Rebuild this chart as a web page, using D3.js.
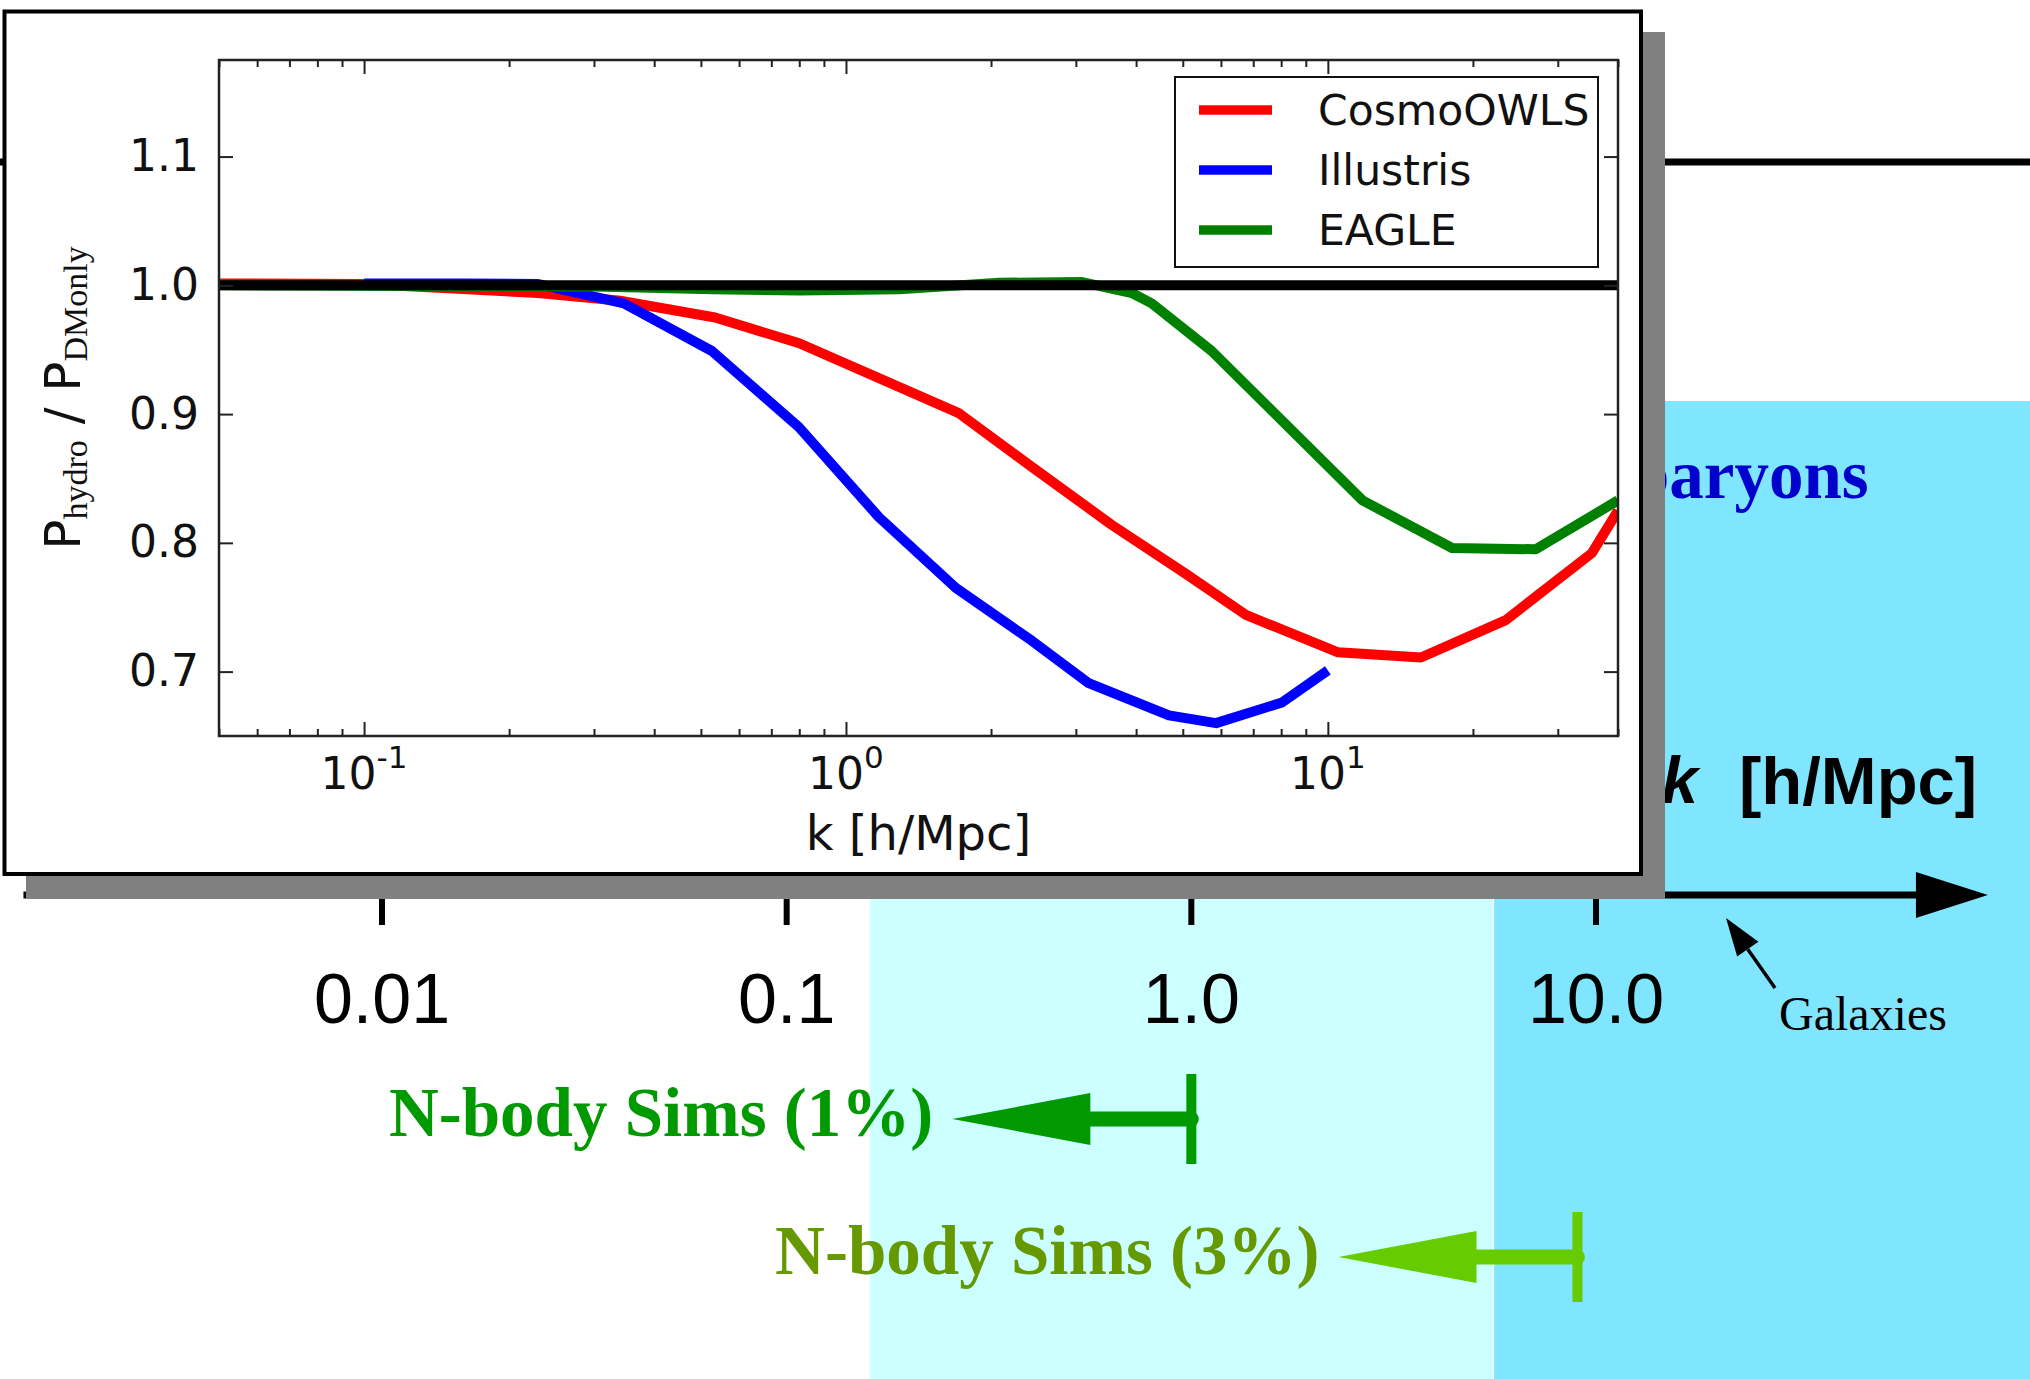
<!DOCTYPE html>
<html>
<head>
<meta charset="utf-8">
<script src="https://cdn.jsdelivr.net/npm/d3@7"></script>
<style>
  html, body { margin: 0; padding: 0; background: #fff; }
  svg { display: block; }
  text { white-space: pre; }
</style>
</head>
<body>
<svg id="chart" width="2030" height="1379"></svg>
<script>
// ---- big k axis (background sketch) ----
const bigTicks = [0.01, 0.1, 1.0, 10.0];
const bigTickLabels = ["0.01", "0.1", "1.0", "10.0"];
const bandBounds = [[0.161, 5.56], [5.6, 120]];      // k ranges of the shaded bands
const nbodyLabels = ["N-body Sims (1%)", "N-body Sims (3%)"];
const nbodyKmax = [1.0, 9.0];

// ---- inset: P_hydro / P_DMonly ----
const seriesNames = ["CosmoOWLS", "Illustris", "EAGLE"];
const kCosmo = [0.05, 0.10, 0.164, 0.23, 0.34, 0.535, 0.80, 1.71, 2.43, 3.56, 5.07, 6.76, 10.5, 15.6, 23.4, 35.3, 40];
const pCosmo = [1.0015, 1.001, 0.997, 0.994, 0.988, 0.975, 0.955, 0.901, 0.859, 0.814, 0.776, 0.744, 0.715, 0.711, 0.740, 0.792, 0.825];
const kIllustris = [0.1, 0.164, 0.23, 0.346, 0.527, 0.798, 1.17, 1.69, 2.43, 3.19, 4.68, 5.86, 8.03, 10.0];
const pIllustris = [1.0015, 1.0015, 1.001, 0.986, 0.949, 0.890, 0.820, 0.765, 0.724, 0.691, 0.666, 0.660, 0.676, 0.701];
const kEagle = [0.05, 0.3, 0.53, 0.8, 1.29, 2.08, 3.09, 3.92, 4.31, 5.74, 11.8, 18.1, 27.0, 40];
const pEagle = [1.0, 0.999, 0.997, 0.996, 0.997, 1.002, 1.0025, 0.994, 0.986, 0.949, 0.833, 0.796, 0.795, 0.833];
const xMajorTicks = [0.1, 1, 10];
const xTickExponents = ["-1", "0", "1"];
const yTicks = [0.7, 0.8, 0.9, 1.0, 1.1];

const seriesColors = ["#ff0000", "#0000ff", "#008000"];
const series = [
  {name: seriesNames[0], pts: d3.zip(kCosmo, pCosmo)},
  {name: seriesNames[1], pts: d3.zip(kIllustris, pIllustris)},
  {name: seriesNames[2], pts: d3.zip(kEagle, pEagle)}
];

const svg = d3.select("#chart");
svg.append("rect").attr("width", 2030).attr("height", 1379).attr("fill", "#fff");

// big axis scale
const bigX = d3.scaleLog().domain([0.01, 10]).range([382, 1596]);
const axisY = 895;

// shaded bands
svg.selectAll(".band")
  .data(bandBounds)
  .enter().append("rect")
  .attr("class", "band")
  .attr("x", d => bigX(d[0]))
  .attr("width", d => bigX(d[1]) - bigX(d[0]))
  .attr("y", 401)
  .attr("height", 1379 - 401)
  .attr("fill", (d, i) => i == 0 ? "#ccffff" : "#80e5ff");

// top horizontal line
svg.append("line")
  .attr("x1", 0).attr("x2", 2030)
  .attr("y1", 162).attr("y2", 162)
  .attr("stroke", "#000").attr("stroke-width", 7);

// big axis with arrow
const tipX = bigX(93), headLen = 72;
svg.append("line")
  .attr("x1", bigX(0.0013)).attr("x2", tipX - headLen + 2)
  .attr("y1", axisY).attr("y2", axisY)
  .attr("stroke", "#000").attr("stroke-width", 7);
svg.append("path")
  .attr("d", `M${tipX},${axisY} L${tipX - headLen},${axisY - 23} L${tipX - headLen},${axisY + 23} Z`)
  .attr("fill", "#000");

svg.selectAll(".bigtick")
  .data(bigTicks)
  .enter().append("line")
  .attr("class", "bigtick")
  .attr("x1", d => bigX(d)).attr("x2", d => bigX(d))
  .attr("y1", axisY).attr("y2", axisY + 30)
  .attr("stroke", "#000").attr("stroke-width", 6);

svg.selectAll(".biglabel")
  .data(bigTicks)
  .enter().append("text")
  .attr("class", "biglabel")
  .attr("x", d => bigX(d))
  .attr("y", 1023)
  .attr("text-anchor", "middle")
  .attr("font-family", "Liberation Sans, Arial, sans-serif")
  .attr("font-size", 70)
  .attr("fill", "#000")
  .text((d, i) => bigTickLabels[i]);

// labels on the background sketch
svg.append("text")
  .attr("x", 1631).attr("y", 498)
  .attr("font-family", "Liberation Serif, serif")
  .attr("font-weight", "bold")
  .attr("font-size", 69)
  .attr("fill", "#0000cc")
  .text("baryons");

svg.append("text")
  .attr("x", 1698).attr("y", 803)
  .attr("text-anchor", "end")
  .attr("font-family", "Liberation Sans, Arial, sans-serif")
  .attr("font-weight", "bold").attr("font-style", "italic")
  .attr("font-size", 66)
  .text("k");
svg.append("text")
  .attr("x", 1739).attr("y", 804)
  .attr("font-family", "Liberation Sans, Arial, sans-serif")
  .attr("font-weight", "bold")
  .attr("font-size", 67)
  .text("[h/Mpc]");

svg.append("text")
  .attr("x", 1779).attr("y", 1030)
  .attr("font-family", "Liberation Serif, serif")
  .attr("font-size", 48)
  .text("Galaxies");

// Galaxies pointer
const gFrom = [1775, 988], gTip = [1726, 918];
const gdx = gTip[0] - gFrom[0], gdy = gTip[1] - gFrom[1];
const gLen = Math.sqrt(gdx * gdx + gdy * gdy);
const ux = gdx / gLen, uy = gdy / gLen;
const bx = gTip[0] - ux * 38, by = gTip[1] - uy * 38;
svg.append("line")
  .attr("x1", gFrom[0]).attr("y1", gFrom[1])
  .attr("x2", bx).attr("y2", by)
  .attr("stroke", "#000").attr("stroke-width", 3.5);
svg.append("path")
  .attr("d", `M${gTip[0]},${gTip[1]} L${bx - uy * 13},${by + ux * 13} L${bx + uy * 13},${by - ux * 13} Z`)
  .attr("fill", "#000");

// N-body accuracy arrows
const nbodyY = [1119, 1257];
const nbodyText = ["#009900", "#669900"];
const nbodyArrow = ["#009900", "#66cc00"];
const nb = svg.selectAll(".nbody")
  .data(nbodyKmax)
  .enter().append("g")
  .attr("class", "nbody");

nb.append("line")
  .attr("x1", d => bigX(d) - 101).attr("x2", d => bigX(d))
  .attr("y1", (d, i) => nbodyY[i]).attr("y2", (d, i) => nbodyY[i])
  .attr("stroke", (d, i) => nbodyArrow[i])
  .attr("stroke-width", 15)
  .attr("stroke-linecap", "round");
nb.append("line")
  .attr("x1", d => bigX(d)).attr("x2", d => bigX(d))
  .attr("y1", (d, i) => nbodyY[i] - 45).attr("y2", (d, i) => nbodyY[i] + 45)
  .attr("stroke", (d, i) => nbodyArrow[i])
  .attr("stroke-width", 10);
nb.append("path")
  .attr("d", (d, i) => {
    const b = bigX(d) - 101, t = b - 138, yc = nbodyY[i];
    return `M${t},${yc} L${b},${yc - 26} L${b},${yc + 26} Z`;
  })
  .attr("fill", (d, i) => nbodyArrow[i]);
nb.append("text")
  .attr("x", d => bigX(d) - 101 - 138 - 19)
  .attr("y", (d, i) => nbodyY[i] + 17)
  .attr("text-anchor", "end")
  .attr("font-family", "Liberation Serif, serif")
  .attr("font-weight", "bold")
  .attr("font-size", 69)
  .attr("fill", (d, i) => nbodyText[i])
  .text((d, i) => nbodyLabels[i]);

// ---- inset panel ----
svg.append("rect")
  .attr("x", 26).attr("y", 32)
  .attr("width", 1665 - 26).attr("height", 899 - 32)
  .attr("fill", "#808080");
svg.append("rect")
  .attr("x", 4.5).attr("y", 11.5)
  .attr("width", 1641 - 4.5).attr("height", 874 - 11.5)
  .attr("fill", "#fff")
  .attr("stroke", "#000").attr("stroke-width", 4);

const plot = {left: 219, right: 1618, top: 60, bottom: 736};
const x = d3.scaleLog().domain([0.05, 40]).range([plot.left, plot.right]);
const y = d3.scaleLinear().domain([0.65, 1.175]).range([plot.bottom, plot.top]);

const inset = svg.append("g").attr("class", "inset");

inset.append("clipPath").attr("id", "plotclip")
  .append("rect")
  .attr("x", plot.left).attr("y", plot.top)
  .attr("width", plot.right - plot.left).attr("height", plot.bottom - plot.top);

const line = d3.line()
  .x(d => x(d[0]))
  .y(d => y(d[1]));

inset.append("g").attr("clip-path", "url(#plotclip)")
  .selectAll(".curve")
  .data(series)
  .enter().append("path")
  .attr("class", "curve")
  .attr("d", d => line(d.pts))
  .attr("fill", "none")
  .attr("stroke", (d, i) => seriesColors[i])
  .attr("stroke-width", 10)
  .attr("stroke-linejoin", "round");

// reference line at 1
inset.append("line")
  .attr("x1", x(0.05)).attr("x2", x(40))
  .attr("y1", y(1.0)).attr("y2", y(1.0))
  .attr("stroke", "#000").attr("stroke-width", 10);

// ticks (inward, all four sides)
const xMinorTicks = x.ticks().filter(d => Math.abs(Math.log10(d) - Math.round(Math.log10(d))) > 1e-6);

function styleAxis(g) {
  g.select(".domain").remove();
  g.selectAll("line").attr("stroke", "#222").attr("stroke-width", 2);
}

inset.append("g").attr("transform", `translate(0,${plot.bottom})`)
  .call(d3.axisBottom(x).tickValues(xMajorTicks).tickSize(-14).tickFormat("")).call(styleAxis);
inset.append("g").attr("transform", `translate(0,${plot.bottom})`)
  .call(d3.axisBottom(x).tickValues(xMinorTicks).tickSize(-7).tickFormat("")).call(styleAxis);
inset.append("g").attr("transform", `translate(0,${plot.top})`)
  .call(d3.axisTop(x).tickValues(xMajorTicks).tickSize(-14).tickFormat("")).call(styleAxis);
inset.append("g").attr("transform", `translate(0,${plot.top})`)
  .call(d3.axisTop(x).tickValues(xMinorTicks).tickSize(-7).tickFormat("")).call(styleAxis);
inset.append("g").attr("transform", `translate(${plot.right},0)`)
  .call(d3.axisRight(y).tickValues(yTicks).tickSize(-14).tickFormat("")).call(styleAxis);

const yAxis = inset.append("g").attr("transform", `translate(${plot.left},0)`)
  .call(d3.axisLeft(y).tickValues(yTicks).tickSize(-14).tickPadding(20).tickFormat(d3.format(".1f")))
  .call(styleAxis);
yAxis.attr("font-size", 44).attr("font-family", "DejaVu Sans, sans-serif");
yAxis.selectAll("text").attr("fill", "#111");

// frame
inset.append("rect")
  .attr("x", plot.left).attr("y", plot.top)
  .attr("width", plot.right - plot.left).attr("height", plot.bottom - plot.top)
  .attr("fill", "none").attr("stroke", "#222").attr("stroke-width", 2.5);

// x tick labels 10^n
const xl = inset.selectAll(".xlabel")
  .data(xMajorTicks)
  .enter().append("text")
  .attr("class", "xlabel")
  .attr("x", d => x(d))
  .attr("y", 789)
  .attr("text-anchor", "middle")
  .attr("font-family", "DejaVu Sans, sans-serif")
  .attr("font-size", 44)
  .attr("fill", "#111");
xl.append("tspan").text("10");
xl.append("tspan").attr("dy", -21).attr("font-size", 31).text((d, i) => xTickExponents[i]);

// axis labels
inset.append("text")
  .attr("x", (plot.left + plot.right) / 2).attr("y", 850)
  .attr("text-anchor", "middle")
  .attr("font-family", "DejaVu Sans, sans-serif")
  .attr("font-size", 48)
  .attr("fill", "#111")
  .text("k [h/Mpc]");

const yl = inset.append("text")
  .attr("transform", `translate(80,${(plot.top + plot.bottom) / 2}) rotate(-90)`)
  .attr("text-anchor", "middle")
  .attr("font-family", "DejaVu Sans, sans-serif")
  .attr("font-size", 50)
  .attr("fill", "#111");
yl.append("tspan").text("P");
yl.append("tspan").attr("font-family", "Liberation Serif, serif").attr("font-size", 34).attr("dy", 7).text("hydro");
yl.append("tspan").attr("dy", -7).text(" / ");
yl.append("tspan").text("P");
yl.append("tspan").attr("font-family", "Liberation Serif, serif").attr("font-size", 34).attr("dy", 7).text("DMonly");

// legend
const legend = inset.append("g").attr("class", "legend");
legend.append("rect")
  .attr("x", 1175).attr("y", 77)
  .attr("width", 1598 - 1175).attr("height", 267 - 77)
  .attr("fill", "#fff").attr("stroke", "#111").attr("stroke-width", 2);
const items = legend.selectAll(".item")
  .data(series)
  .enter().append("g")
  .attr("class", "item")
  .attr("transform", (d, i) => `translate(0,${110 + i * 60})`);
items.append("line")
  .attr("x1", 1199).attr("x2", 1272)
  .attr("stroke", (d, i) => seriesColors[i])
  .attr("stroke-width", 9.5);
items.append("text")
  .attr("x", 1318).attr("y", 15)
  .attr("font-family", "DejaVu Sans, sans-serif")
  .attr("font-size", 42.5)
  .attr("fill", "#111")
  .text(d => d.name);
</script>
</body>
</html>
